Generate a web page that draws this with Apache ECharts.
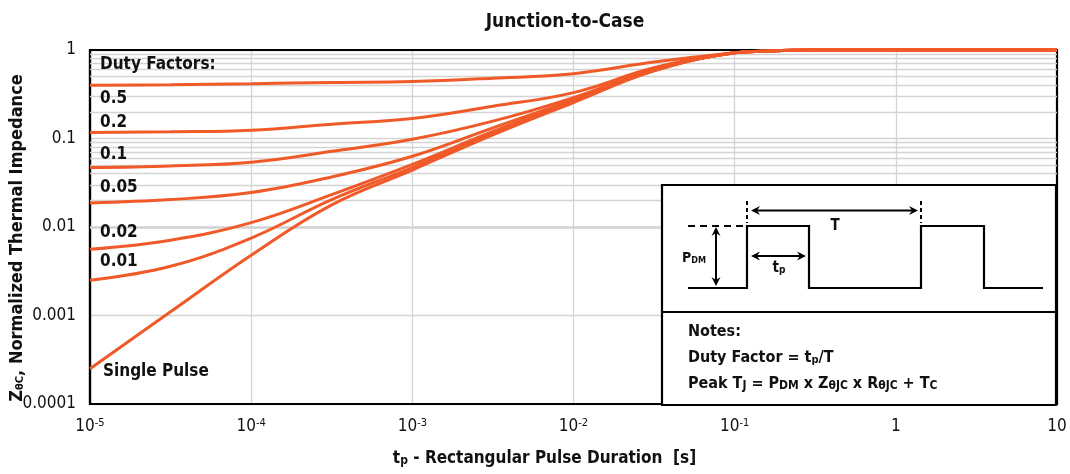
<!DOCTYPE html>
<html>
<head>
<meta charset="utf-8">
<script src="https://cdn.jsdelivr.net/npm/echarts@6/dist/echarts.min.js"></script>
<style>html,body{margin:0;padding:0;background:#fff;}#c{width:1070px;height:474px;}</style>
</head>
<body>
<div id="c"></div>
<script>
// ---- data ----
const pulseDurations = [1e-5, 3.16e-5, 1e-4, 3.16e-4, 1e-3, 3.16e-3, 1e-2, 3.16e-2, 1e-1, 1.5e-1, 3e-1, 1, 10];
const duty050 = [0.40, 0.405, 0.415, 0.43, 0.44, 0.48, 0.54, 0.73, 0.93, 0.97, 1.0, 1.0, 1.0];
const duty020 = [0.117, 0.119, 0.124, 0.145, 0.168, 0.231, 0.33, 0.63, 0.93, 0.97, 1.0, 1.0, 1.0];
const duty010 = [0.047, 0.049, 0.054, 0.0716, 0.098, 0.157, 0.29, 0.61, 0.93, 0.97, 1.0, 1.0, 1.0];
const duty005 = [0.0187, 0.0204, 0.0245, 0.0368, 0.063, 0.132, 0.275, 0.60, 0.93, 0.97, 1.0, 1.0, 1.0];
const duty002 = [0.0056, 0.0071, 0.0112, 0.0232, 0.051, 0.12, 0.265, 0.59, 0.93, 0.97, 1.0, 1.0, 1.0];
const duty001 = [0.0025, 0.0036, 0.0075, 0.0204, 0.047, 0.115, 0.26, 0.585, 0.93, 0.97, 1.0, 1.0, 1.0];
const singlePulse = [0.00025, 0.0011, 0.0048, 0.0178, 0.044, 0.11, 0.255, 0.58, 0.93, 0.97, 1.0, 1.0, 1.0];
const seriesNames = ['0.5', '0.2', '0.1', '0.05', '0.02', '0.01', 'Single Pulse'];
const seriesValues = [duty050, duty020, duty010, duty005, duty002, duty001, singlePulse];
const xTickLabels = ['10{sup|-5}', '10{sup|-4}', '10{sup|-3}', '10{sup|-2}', '10{sup|-1}', '1', '10'];
const yTickLabels = ['0.0001', '0.001', '0.01', '0.1', '1'];
const minorMultipliers = [2, 3, 4, 5, 6, 7, 8, 9];
const minorDecades = [1e-4, 1e-3, 1e-2, 1e-1];

const FONT = '"Liberation Sans Narrow", "DejaVu Sans Condensed", sans-serif';
const ORANGE = '#F05A28';
const GRID = '#d4d4d4';

const minorY = [];
minorDecades.forEach(d => minorMultipliers.forEach(m => minorY.push(+(m * d).toPrecision(3))));

const lineSeries = seriesNames.map((name, i) => ({
  name: name,
  type: 'line',
  data: pulseDurations.map((x, j) => [x, seriesValues[i][j]]),
  smooth: 0.4,
  showSymbol: false,
  clip: false,
  z: 5,
  lineStyle: { color: ORANGE, width: 3 },
  emphasis: { disabled: true },
  animation: false
}));

const helperSeries = {
  type: 'line',
  data: [[1e-5, 1]],
  showSymbol: false,
  lineStyle: { opacity: 0 },
  z: 1,
  silent: true,
  animation: false,
  markLine: {
    silent: true,
    symbol: ['none', 'none'],
    label: { show: false },
    animation: false,
    lineStyle: { color: GRID, width: 1.3, type: 'solid' },
    emphasis: { disabled: true },
    data: minorY.map(v => ({ yAxis: v }))
  }
};

function arrowHead(tipX, tipY, dir) {
  const L = 9, W = 4.5, N = 6;
  let pts;
  if (dir === 'r') pts = [[tipX, tipY], [tipX - L, tipY - W], [tipX - N, tipY], [tipX - L, tipY + W]];
  if (dir === 'l') pts = [[tipX, tipY], [tipX + L, tipY - W], [tipX + N, tipY], [tipX + L, tipY + W]];
  if (dir === 'd') pts = [[tipX, tipY], [tipX - W, tipY - L], [tipX, tipY - N], [tipX + W, tipY - L]];
  if (dir === 'u') pts = [[tipX, tipY], [tipX - W, tipY + L], [tipX, tipY + N], [tipX + W, tipY + L]];
  return { type: 'polygon', shape: { points: pts }, style: { fill: '#000' }, z: 101 };
}
function seg(x1, y1, x2, y2, w, dash) {
  return { type: 'line', shape: { x1, y1, x2, y2 }, style: { stroke: '#000', lineWidth: w, lineDash: dash || null }, z: 101 };
}
function txt(x, y, text, size, weight, align, rich) {
  return {
    type: 'text', x: x, y: y, z: 102,
    style: {
      text: text, font: weight + ' ' + size + 'px ' + FONT, fill: '#111',
      textAlign: align || 'left', textVerticalAlign: 'middle', rich: rich || undefined
    }
  };
}
const subRich = (size) => ({
  sub: { fontSize: size, fontWeight: 'bold', fontFamily: FONT, fill: '#111', verticalAlign: 'bottom', lineHeight: size, padding: [6, 0, 0, 0] }
});

const LB = 17;
const curveLabels = [
  txt(100, 65, 'Duty Factors:', LB, 'bold'),
  txt(100, 99, '0.5', LB, 'bold'),
  txt(100, 123, '0.2', LB, 'bold'),
  txt(100, 155, '0.1', LB, 'bold'),
  txt(100, 188, '0.05', LB, 'bold'),
  txt(100, 233, '0.02', LB, 'bold'),
  txt(100, 262, '0.01', LB, 'bold'),
  txt(103, 372, 'Single Pulse', LB, 'bold')
];

const inset = [
  { type: 'rect', shape: { x: 662, y: 185, width: 394, height: 220 }, style: { fill: '#fff', stroke: '#000', lineWidth: 2.2 }, z: 100 },
  seg(662, 312, 1056, 312, 2.2),
  { type: 'polyline', shape: { points: [[688, 288], [747, 288], [747, 226], [809, 226], [809, 288], [921, 288], [921, 226], [984, 226], [984, 288], [1043, 288]] }, style: { stroke: '#000', lineWidth: 2.2, fill: null }, z: 101 },
  seg(688, 226, 745, 226, 2, [7, 5]),
  seg(747, 201, 747, 223, 2, [4, 3]),
  seg(921, 201, 921, 223, 2, [4, 3]),
  seg(756, 210.5, 913, 210.5, 2),
  arrowHead(751, 210.5, 'l'), arrowHead(918, 210.5, 'r'),
  seg(716, 232, 716, 281, 2),
  arrowHead(716, 227, 'u'), arrowHead(716, 286, 'd'),
  seg(756, 256, 801, 256, 2),
  arrowHead(751, 256, 'l'), arrowHead(806, 256, 'r'),
  txt(835, 226, 'T', 15, 'bold', 'center'),
  txt(682, 258, 'P{sub|DM}', 14, 'bold', 'left', subRich(9)),
  txt(779, 268, 't{sub|p}', 15, 'bold', 'center', subRich(10)),
  txt(688, 332, 'Notes:', 16, 'bold'),
  txt(688, 358, 'Duty Factor = t{sub|p}/T', 16, 'bold', 'left', subRich(11)),
  txt(688, 384, 'Peak T{s2|J} = P{s2|DM} x Z{s2|θJC} x R{s2|θJC} + T{s2|C}', 16, 'bold', 'left',
    { s2: { fontSize: 12, fontWeight: 'bold', fontFamily: FONT, fill: '#111', verticalAlign: 'bottom', lineHeight: 14, padding: [3, 0, 0, 0] } })
];

const chart = echarts.init(document.getElementById('c'), null, { renderer: 'canvas' });
chart.setOption({
  backgroundColor: '#fff',
  animation: false,
  title: {
    text: 'Junction-to-Case', left: 560, top: 8, textAlign: 'center',
    textStyle: { fontFamily: FONT, fontWeight: 'bold', fontSize: 19, color: '#111' }
  },
  grid: { left: 90, right: 13, top: 50, bottom: 70, show: true, borderColor: '#000', borderWidth: 2.2, containLabel: false, outerBoundsMode: 'none', z: 3 },
  xAxis: {
    type: 'log', logBase: 10, min: 1e-5, max: 10,
    name: 't{sub|p} - Rectangular Pulse Duration  [s]',
    nameLocation: 'middle', nameGap: 46, nameMoveOverlap: false,
    nameTextStyle: {
      fontFamily: FONT, fontWeight: 'bold', fontSize: 17, color: '#111', padding: [0, 58, 0, 0],
      rich: { sub: { fontSize: 12, fontWeight: 'bold', fontFamily: FONT, color: '#111', verticalAlign: 'bottom', lineHeight: 12, padding: [7, 0, 0, 0] } }
    },
    axisLine: { show: true, lineStyle: { color: '#000', width: 2.2 } },
    axisTick: { show: false },
    axisLabel: {
      margin: 14, fontFamily: FONT, fontSize: 17, color: '#111',
      formatter: v => xTickLabels[Math.round(Math.log10(v)) + 5] || '',
      rich: { sup: { fontSize: 11, fontFamily: FONT, color: '#111', verticalAlign: 'top', lineHeight: 11 } }
    },
    splitLine: { show: true, lineStyle: { color: GRID, width: 1.3 } },
    minorTick: { show: false }, minorSplitLine: { show: false }
  },
  yAxis: {
    type: 'log', logBase: 10, min: 1e-4, max: 1,
    name: 'Z{sub|θC}, Normalized Thermal Impedance',
    nameLocation: 'middle', nameGap: 64, nameRotate: 90, nameMoveOverlap: false,
    nameTextStyle: {
      fontFamily: FONT, fontWeight: 'bold', fontSize: 18, color: '#111', padding: [0, 22, 0, 0],
      rich: { sub: { fontSize: 11, fontWeight: 'bold', fontFamily: FONT, color: '#111', verticalAlign: 'bottom', lineHeight: 11, padding: [6, 0, 0, 0] } }
    },
    axisLine: { show: true, lineStyle: { color: '#000', width: 2.2 } },
    axisTick: { show: false },
    axisLabel: {
      margin: 14, fontFamily: FONT, fontSize: 17, color: '#111',
      formatter: v => yTickLabels[Math.round(Math.log10(v)) + 4] || ''
    },
    splitLine: { show: true, lineStyle: { color: GRID, width: 1.3 } }
  },
  series: [helperSeries].concat(lineSeries),
  graphic: { elements: curveLabels.concat(inset) }
});
</script>
</body>
</html>
